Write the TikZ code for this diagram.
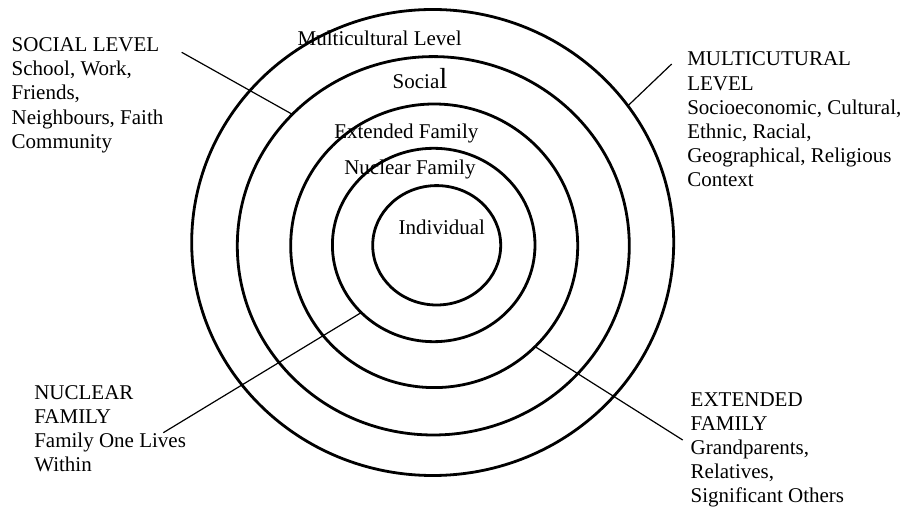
\documentclass[tikz,border=0pt]{standalone}
\usepackage{fontspec}
\setmainfont{Liberation Serif}
\usetikzlibrary{shapes.geometric}
\begin{document}
\begin{tikzpicture}[x=1pt,y=-1pt,
 ring/.style={draw, ellipse, line width=2.8pt, inner sep=0pt, outer sep=0pt},
 lbl/.style={anchor=base west, inner sep=0pt, outer sep=0pt, align=left, font=\fontsize{21}{24.2}\selectfont},
 lead/.style={line width=1.2pt}]
\useasboundingbox (0,0) rectangle (906,510);
% rings
\node[ring, minimum width=482pt, minimum height=466pt] (outer) at (432.7,242.5) {};
\node[ring, minimum width=392pt, minimum height=378.4pt] (social) at (433.3,245.8) {};
\node[ring, minimum width=287pt, minimum height=283.6pt] (extended) at (434.2,245.8) {};
\node[ring, minimum width=202.6pt, minimum height=193.4pt] (nuclear) at (433.7,245) {};
\node[ring, minimum width=128pt, minimum height=119.4pt] (individual) at (436.7,245.3) {};
% ring labels
\node[lbl] (tmult) at (297.7,45.7) {Multicultural Level};
\node[lbl] (tsoc) at (392.7,88.3) {Socia{\fontsize{29}{29}\selectfont l}};
\node[lbl] (text) at (334.3,138.3) {Extended Family};
\node[lbl] (tnuc) at (344.3,175) {Nuclear Family};
\node[lbl] (tind) at (398.7,235) {Individual};
% side labels (anchored at the baseline of their last line)
\node[lbl] (lsoc) at (11.7,148.3) {SOCIAL LEVEL\\School, Work,\\Friends,\\Neighbours, Faith\\Community};
\node[lbl] (lmult) at (687.3,187) {MULTICUTURAL\\LEVEL\\Socioeconomic, Cultural,\\Ethnic, Racial,\\Geographical, Religious\\Context};
\node[lbl] (lnuc) at (34.3,472) {NUCLEAR\\FAMILY\\Family One Lives\\Within};
\node[lbl] (lext) at (690.7,503) {EXTENDED\\FAMILY\\Grandparents,\\Relatives,\\Significant Others};
% leader lines
\coordinate (esoc) at (181.7,52.3);
\coordinate (emult) at (671.7,64);
\coordinate (enuc) at (163.3,432.7);
\coordinate (eext) at (682.7,440);
\draw[lead] (esoc) -- (social.137.6);
\draw[lead] (emult) -- (outer.35.7);
\draw[lead] (enuc) -- (nuclear.223.7);
\draw[lead] (eext) -- (extended.315.5);
\end{tikzpicture}
\end{document}
